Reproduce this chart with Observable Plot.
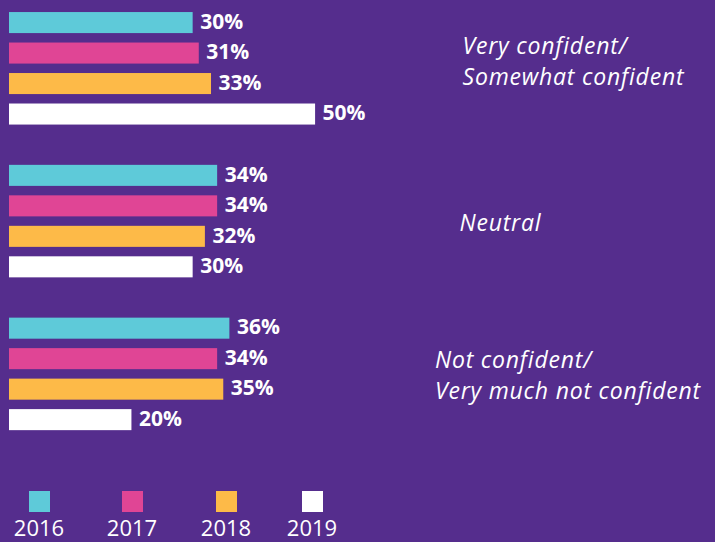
<!DOCTYPE html>
<html>
<head>
<meta charset="utf-8">
<script src="https://cdn.jsdelivr.net/npm/d3@7"></script>
<script src="https://cdn.jsdelivr.net/npm/@observablehq/plot@0.6"></script>
<style>
  html, body { margin: 0; padding: 0; background: #552D8D; }
  #wrap { width: 715px; height: 542px; overflow: hidden; background: #552D8D; }
  #legend { position: relative; height: 97px; font-family: "Open Sans", sans-serif; color: #fff; }
  .item { position: absolute; top: 0; width: 90px; text-align: center; }
  .sw { width: 21px; height: 21px; margin: 46px auto 0 auto; }
  .lab { font-size: 22px; line-height: 22px; margin-top: 4px; }
  #chart g[font-style="italic"] { letter-spacing: 0.8px; }
</style>
</head>
<body>
<div id="wrap"><div id="chart"></div><div id="legend"></div></div>
<script>
const groups = ["Very confident/\nSomewhat confident", "Neutral", "Not confident/\nVery much not confident"];
const years = ["2016", "2017", "2018", "2019"];
const colors = ["#5ECAD9", "#E04595", "#FDBA48", "#FFFFFF"];
const v2016 = [30, 34, 36];
const v2017 = [31, 34, 34];
const v2018 = [33, 32, 35];
const v2019 = [50, 30, 20];

const series = [v2016, v2017, v2018, v2019];
const rows = [];
groups.forEach((g, gi) => years.forEach((y, yi) => rows.push({group: g, year: y, value: series[yi][gi]})));

const labelMarks = [
  {x: 74, dy: -9},
  {x: 73.5, dy: -1},
  {x: 69.5, dy: -1}
].map((o, i) => Plot.text([groups[i]], {
  fy: d => d, x: () => o.x, frameAnchor: "middle", dy: o.dy,
  text: d => d, textAnchor: "start", fill: "#fff", fontSize: 23,
  fontStyle: "italic", lineHeight: 1.36, fontFamily: "Open Sans"
}));

const chart = Plot.plot({
  width: 715,
  height: 445,
  marginLeft: 9,
  marginRight: 2,
  marginTop: 2.6,
  marginBottom: 5.4,
  style: {background: "transparent", fontFamily: "Open Sans"},
  x: {domain: [0, 115], axis: null},
  y: {domain: years, padding: 0.31, round: false, axis: null},
  fy: {domain: groups, paddingInner: 0.14, paddingOuter: 0, round: false, axis: null},
  color: {domain: years, range: colors},
  marks: [
    Plot.barX(rows, {fy: "group", y: "year", x: "value", fill: "year"}),
    Plot.text(rows, {fy: "group", y: "year", x: "value", text: d => d.value + "%",
      textAnchor: "start", dx: 7, dy: -1, fill: "#fff", fontWeight: "bold", fontSize: 21}),
    ...labelMarks
  ]
});
document.getElementById("chart").appendChild(chart);

const legendCenters = [39, 132, 226, 312];
const legend = document.getElementById("legend");
years.forEach((y, i) => {
  const it = document.createElement("div");
  it.className = "item";
  it.style.left = (legendCenters[i] - 45) + "px";
  it.innerHTML = `<div class="sw" style="background:${colors[i]}"></div><div class="lab">${y}</div>`;
  legend.appendChild(it);
});
</script>
</body>
</html>
